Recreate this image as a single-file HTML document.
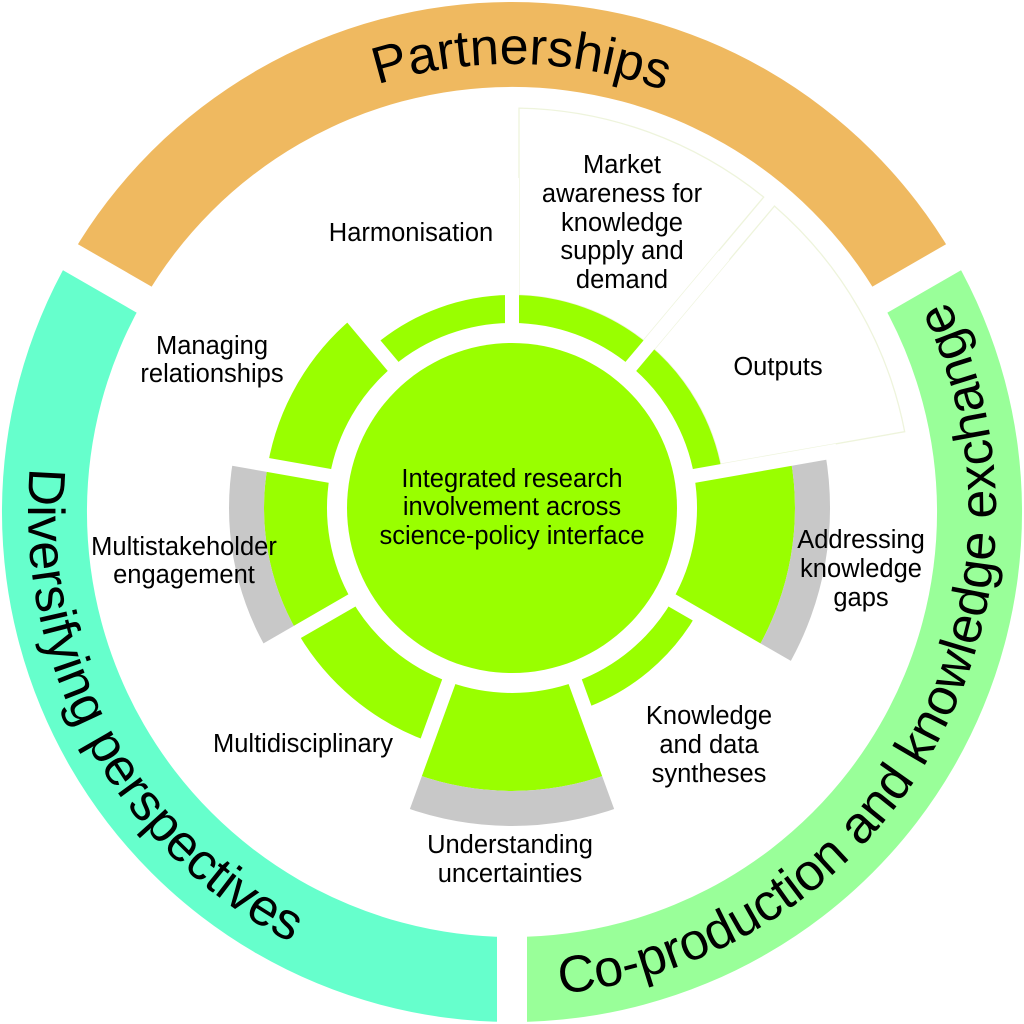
<!DOCTYPE html>
<html>
<head>
<meta charset="utf-8">
<style>
  html, body { margin: 0; padding: 0; background: #ffffff; }
  svg { display: block; }
  text { font-family: "Liberation Sans", Arial, sans-serif; fill: #000; }
  .lbl { font-size: 25.5px; text-anchor: middle; }
  .ring { font-size: 52px; }
</style>
</head>
<body>
<svg width="1024" height="1024" viewBox="0 0 1024 1024" xmlns="http://www.w3.org/2000/svg">
  <rect width="1024" height="1024" fill="#ffffff"/>

  <!-- Outer rings -->
  <path d="M70.3,257 A510 510 0 0 1 953.7,257 L880.1,299.5 A425 425 0 0 0 143.9,299.5 Z" fill="#EFB960"/>
  <path d="M953.7,257 A510 510 0 0 1 512,1022 L512,937 A425 425 0 0 0 880.1,299.5 Z" fill="#99FF99"/>
  <path d="M512,1022 A510 510 0 0 1 70.3,257 L143.9,299.5 A425 425 0 0 0 512,937 Z" fill="#66FFCC"/>
  <!-- outer gaps -->
  <g stroke="#ffffff" stroke-width="30" stroke-linecap="butt">
    <line x1="867.1" y1="307" x2="980" y2="242"/>
    <line x1="512" y1="922" x2="512" y2="1050"/>
    <line x1="156.9" y1="307" x2="44" y2="242"/>
  </g>

  <!-- Faint wedges -->
  <g fill="#ffffff" stroke="#eef4dc" stroke-width="1.3">
    <path d="M519,108.1 A400 400 0 0 1 763.7,197.1 L643.5,340.3 A213 213 0 0 0 519,295.1 Z"/>
    <path d="M774.5,206.1 A400 400 0 0 1 904.7,431.7 L720.6,464.1 A213 213 0 0 0 654.3,349.3 Z"/>
  </g>

  <!-- Central circle -->
  <circle cx="512" cy="508" r="165" fill="#99FF00"/>

  <!-- Inner segments -->
  <g fill="#99FF00">
    <path d="M512,295 A213 213 0 0 1 648.9,344.8 L630.9,366.3 A185 185 0 0 0 512,323 Z"/>
    <path d="M648.9,344.8 A213 213 0 0 1 721.8,471.0 L694.2,475.9 A185 185 0 0 0 630.9,366.3 Z"/>
    <path d="M790.7,458.9 A283 283 0 0 1 757.1,649.5 L672.2,600.5 A185 185 0 0 0 694.2,475.9 Z"/>
    <path d="M696.5,614.5 A213 213 0 0 1 584.8,708.2 L575.3,681.8 A185 185 0 0 0 672.2,600.5 Z"/>
    <path d="M608.8,773.9 A283 283 0 0 1 415.2,773.9 L448.7,681.8 A185 185 0 0 0 575.3,681.8 Z"/>
    <path d="M427.2,741.0 A248 248 0 0 1 297.2,632.0 L351.8,600.5 A185 185 0 0 0 448.7,681.8 Z"/>
    <path d="M297.2,632.0 A248 248 0 0 1 267.8,464.9 L329.8,475.9 A185 185 0 0 0 351.8,600.5 Z"/>
    <path d="M267.8,464.9 A248 248 0 0 1 352.6,318.0 L393.1,366.3 A185 185 0 0 0 329.8,475.9 Z"/>
    <path d="M375.1,344.8 A213 213 0 0 1 512,295 L512,323 A185 185 0 0 0 393.1,366.3 Z"/>
  </g>
  <g fill="#C8C8C8">
    <path d="M825.2,452.8 A318 318 0 0 1 787.4,667.0 L757.1,649.5 A283 283 0 0 0 790.7,458.9 Z"/>
    <path d="M620.8,806.8 A318 318 0 0 1 403.2,806.8 L415.2,773.9 A283 283 0 0 0 608.8,773.9 Z"/>
    <path d="M266.9,649.5 A283 283 0 0 1 233.3,458.9 L267.8,464.9 A248 248 0 0 0 297.2,632.0 Z"/>
  </g>

  <!-- Inner gaps -->
  <g stroke="#ffffff" stroke-width="14" stroke-linecap="butt">
    <line x1="512" y1="338" x2="512" y2="178"/>
    <line x1="621.3" y1="377.8" x2="724.1" y2="255.2"/>
    <line x1="679.4" y1="478.5" x2="837.0" y2="450.7"/>
    <line x1="659.2" y1="593" x2="797.8" y2="673"/>
    <line x1="570.1" y1="667.7" x2="624.9" y2="818.1"/>
    <line x1="453.9" y1="667.7" x2="399.1" y2="818.1"/>
    <line x1="364.8" y1="593" x2="226.2" y2="673"/>
    <line x1="344.6" y1="478.5" x2="187.0" y2="450.7"/>
    <line x1="402.7" y1="377.8" x2="299.9" y2="255.2"/>
  </g>

  <!-- Ring text paths -->
  <defs>
    <path id="pTop" d="M124,288 A448 448 0 0 1 900,288"/>
    <path id="pLeft" d="M92.8,270 A484 484 0 0 0 512,996"/>
    <path id="pRight" d="M512,996 A484 484 0 0 0 931.2,270"/>
  </defs>
  <text class="ring"><textPath href="#pTop" startOffset="51%" text-anchor="middle">Partnerships</textPath></text>
  <text class="ring"><textPath href="#pLeft" startOffset="49%" text-anchor="middle">Diversifying perspectives</textPath></text>
  <text class="ring"><textPath href="#pRight" startOffset="50.7%" text-anchor="middle">Co-production and knowledge exchange</textPath></text>

  <!-- Center text -->
  <text class="lbl" x="512" y="487">Integrated research</text>
  <text class="lbl" x="512" y="515">involvement across</text>
  <text class="lbl" x="512" y="544">science-policy interface</text>

  <!-- Segment labels -->
  <text class="lbl" x="411" y="241">Harmonisation</text>

  <text class="lbl" x="622" y="173">Market</text>
  <text class="lbl" x="622" y="202">awareness for</text>
  <text class="lbl" x="622" y="231">knowledge</text>
  <text class="lbl" x="622" y="259">supply and</text>
  <text class="lbl" x="622" y="288">demand</text>

  <text class="lbl" x="778" y="375">Outputs</text>

  <text class="lbl" x="861" y="548">Addressing</text>
  <text class="lbl" x="861" y="577">knowledge</text>
  <text class="lbl" x="861" y="606">gaps</text>

  <text class="lbl" x="709" y="724">Knowledge</text>
  <text class="lbl" x="709" y="753">and data</text>
  <text class="lbl" x="709" y="782">syntheses</text>

  <text class="lbl" x="510" y="853">Understanding</text>
  <text class="lbl" x="510" y="882">uncertainties</text>

  <text class="lbl" x="303" y="752">Multidisciplinary</text>

  <text class="lbl" x="184" y="555">Multistakeholder</text>
  <text class="lbl" x="184" y="583">engagement</text>

  <text class="lbl" x="212" y="354">Managing</text>
  <text class="lbl" x="212" y="382">relationships</text>
</svg>
</body>
</html>
